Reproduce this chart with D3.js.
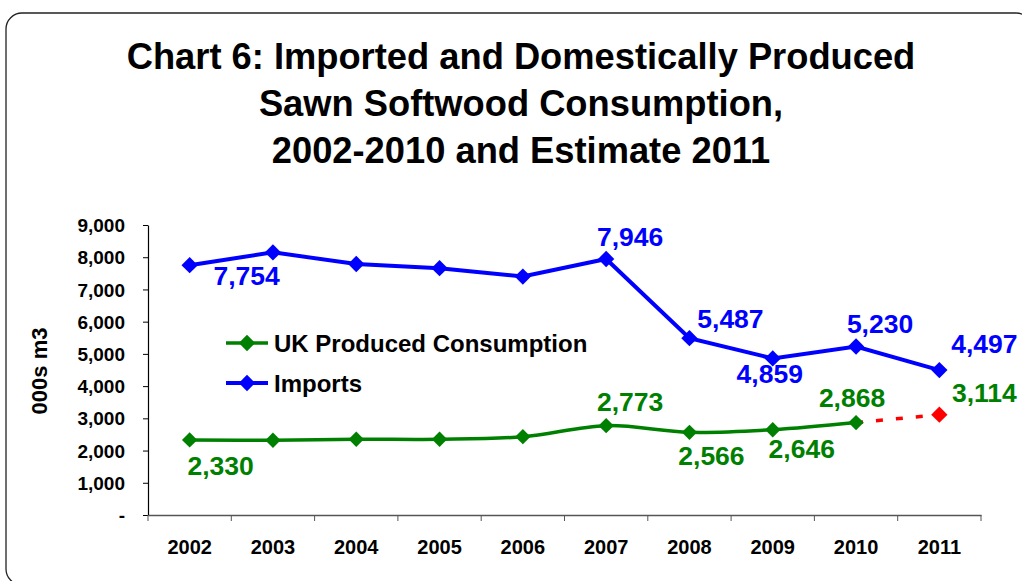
<!DOCTYPE html>
<html>
<head>
<meta charset="utf-8">
<script src="https://cdn.jsdelivr.net/npm/d3@7"></script>
<style>
  html, body { margin: 0; padding: 0; background: #fff; }
  svg { display: block; font-family: "Liberation Sans", Arial, sans-serif; }
</style>
</head>
<body>
<svg id="chart" width="1022" height="581"></svg>
<script>
// ---- data ----
const years = ["2002","2003","2004","2005","2006","2007","2008","2009","2010","2011"];
const imports = [7754, 8150, 7790, 7660, 7400, 7946, 5487, 4859, 5230, 4497];
const ukProduced = [2330, 2320, 2350, 2350, 2430, 2773, 2566, 2646, 2868];
const ukEstimate = [null, null, null, null, null, null, null, null, 2868, 3114];
const yTicks = [0, 1000, 2000, 3000, 4000, 5000, 6000, 7000, 8000, 9000];
const importLabelIdx = [0, 5, 6, 7, 8, 9];
const ukLabelIdx = [0, 5, 6, 7, 8];
const titleLines = ["Chart 6: Imported and Domestically Produced", "Sawn Softwood Consumption,", "2002-2010 and Estimate 2011"];
const legendNames = ["UK Produced Consumption", "Imports"];
const yAxisTitle = "000s m3";

// ---- layout ----
const svg = d3.select("#chart");
const blue = "#0000FF", green = "#008000", red = "#FF0000";

svg.append("rect").attr("x", 6).attr("y", 13).attr("width", 1026).attr("height", 572)
  .attr("rx", 16).attr("fill", "#fff").attr("stroke", "#222").attr("stroke-width", 1.3);

const title = svg.append("g");
titleLines.forEach((t, i) => {
  title.append("text").attr("x", 521).attr("y", 69 + i * 47)
    .attr("text-anchor", "middle").attr("font-size", 36.3).attr("font-weight", "bold")
    .attr("fill", "#000").text(t);
});

const x = d3.scaleBand().domain(years).range([148, 981]);
const xc = d => x(d) + x.bandwidth() / 2;
const y = d3.scaleLinear().domain([0, 9000]).range([515, 225]);

// y axis
const yAxis = d3.axisLeft(y).tickValues(yTicks).tickSize(5).tickSizeOuter(0)
  .tickFormat(v => v === 0 ? "-" : d3.format(",")(v));
const gy = svg.append("g").attr("transform", "translate(148,0)").call(yAxis);
gy.select(".domain").attr("stroke", "#000").attr("stroke-width", 1.2);
gy.selectAll(".tick line").attr("stroke", "#000");
gy.selectAll(".tick text").attr("font-size", 19).attr("font-weight", "bold")
  .attr("font-family", "Liberation Sans, Arial, sans-serif").attr("fill", "#000")
  .attr("x", -23).attr("dy", "0.35em");

// x axis
const xAxis = d3.axisBottom(x).tickSize(0).tickSizeOuter(0);
const gx = svg.append("g").attr("transform", "translate(0,515)").call(xAxis);
gx.select(".domain").attr("stroke", "#555").attr("stroke-width", 1.5);
gx.selectAll(".tick text").attr("font-size", 20).attr("font-weight", "bold")
  .attr("font-family", "Liberation Sans, Arial, sans-serif").attr("fill", "#000")
  .attr("y", 0).attr("dy", 39);
// category boundary ticks
const bounds = years.map(d => x(d)).concat([x(years[years.length - 1]) + x.bandwidth()]);
svg.append("g").selectAll("line").data(bounds).join("line")
  .attr("x1", d => d).attr("x2", d => d).attr("y1", 515).attr("y2", 521)
  .attr("stroke", "#555").attr("stroke-width", 1);

// y axis title
svg.append("text").attr("transform", "translate(47,371) rotate(-90)")
  .attr("text-anchor", "middle").attr("font-size", 22).attr("font-weight", "bold")
  .attr("fill", "#000").text(yAxisTitle);

const diamond = d3.symbol().type(d3.symbolDiamond2);

// green line (smoothed)
const ukPts = ukProduced.map((v, i) => [xc(years[i]), y(v)]);
svg.append("path").attr("d", d3.line().curve(d3.curveCardinal.tension(0))(ukPts))
  .attr("fill", "none").attr("stroke", green).attr("stroke-width", 3.5);

// red estimate dashed
const estPts = ukEstimate.map((v, i) => v == null ? null : [xc(years[i]), y(v)]).filter(Boolean);
svg.append("path").attr("d", d3.line()(estPts))
  .attr("fill", "none").attr("stroke", red).attr("stroke-width", 3.5).attr("stroke-dasharray", "7,13");

// blue line
const impPts = imports.map((v, i) => [xc(years[i]), y(v)]);
svg.append("path").attr("d", d3.line()(impPts))
  .attr("fill", "none").attr("stroke", blue).attr("stroke-width", 4);

// markers
svg.append("g").selectAll("path").data(ukPts).join("path")
  .attr("transform", d => `translate(${d[0]},${d[1]})`).attr("d", diamond.size(150)())
  .attr("fill", green);
svg.append("g").selectAll("path").data(estPts.slice(1)).join("path")
  .attr("transform", d => `translate(${d[0]},${d[1]})`).attr("d", diamond.size(170)())
  .attr("fill", red);
svg.append("g").selectAll("path").data(impPts).join("path")
  .attr("transform", d => `translate(${d[0]},${d[1]})`).attr("d", diamond.size(170)())
  .attr("fill", blue);

// data labels
const fmt = d3.format(",");
const impOff = {0:[57,20], 5:[24,-13], 6:[41,-10], 7:[-3,25], 8:[24,-13], 9:[45,-17]};
const ukOff = {0:[31,35], 5:[24,-15], 6:[22,33], 7:[29,28], 8:[-4,-16], 9:[45,-13]};
svg.append("g").selectAll("text").data(importLabelIdx).join("text")
  .attr("x", i => xc(years[i]) + impOff[i][0]).attr("y", i => y(imports[i]) + impOff[i][1])
  .attr("text-anchor", "middle").attr("font-size", 26.5).attr("font-weight", "bold")
  .attr("fill", blue).text(i => fmt(imports[i]));
const ukAll = ukProduced.map((v, i) => v).concat([ukEstimate[9]]);
svg.append("g").selectAll("text").data(ukLabelIdx.concat([9])).join("text")
  .attr("x", i => xc(years[i]) + ukOff[i][0]).attr("y", i => y(ukAll[i]) + ukOff[i][1])
  .attr("text-anchor", "middle").attr("font-size", 26.5).attr("font-weight", "bold")
  .attr("fill", green).text(i => fmt(ukAll[i]));

// legend
const legColors = [green, blue];
legendNames.forEach((n, i) => {
  const ly = 343 + i * 40;
  const g = svg.append("g");
  g.append("line").attr("x1", 226).attr("x2", 268).attr("y1", ly).attr("y2", ly)
    .attr("stroke", legColors[i]).attr("stroke-width", i === 0 ? 3.5 : 4);
  g.append("path").attr("transform", `translate(247,${ly})`).attr("d", diamond.size(170)())
    .attr("fill", legColors[i]);
  g.append("text").attr("x", 274).attr("y", ly + 8.5).attr("font-size", 24)
    .attr("font-weight", "bold").attr("fill", "#000").text(n);
});
</script>
</body>
</html>
